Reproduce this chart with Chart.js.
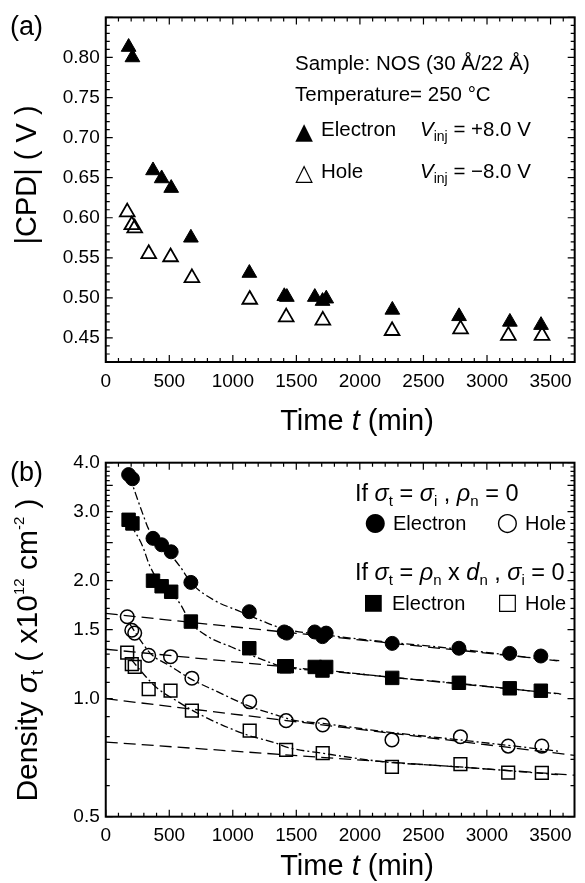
<!DOCTYPE html>
<html><head><meta charset="utf-8">
<script src="https://cdn.jsdelivr.net/npm/chart.js@4/dist/chart.umd.min.js"></script>
<style>
html,body{margin:0;padding:0;background:#fff;}
#wrap{position:relative;width:585px;height:883px;overflow:hidden;}
canvas{position:absolute;left:0;}
#ca{top:0;} #cb{top:440px;}
</style></head><body>
<div id="wrap"><canvas id="ca" width="585" height="440"></canvas><canvas id="cb" width="585" height="443"></canvas></div>
<script>
// ---------- data ----------
const timeElectron = [180, 210, 372, 440, 515, 670, 1130, 1405, 1425, 1645, 1706, 1735, 2255, 2780, 3180, 3425];
const timeHole     = [169, 205, 228, 338, 510, 678, 1133, 1420, 1708, 2253, 2792, 3168, 3433];

const cpdElectron = [0.813, 0.800, 0.659, 0.649, 0.637, 0.575, 0.531, 0.502, 0.501, 0.501, 0.496, 0.499, 0.485, 0.477, 0.470, 0.466];
const cpdHole     = [0.607, 0.591, 0.587, 0.555, 0.551, 0.525, 0.498, 0.476, 0.472, 0.459, 0.461, 0.453, 0.453];

const sigmaElectronI = [3.73, 3.64, 2.565, 2.47, 2.37, 1.98, 1.667, 1.48, 1.47, 1.48, 1.44, 1.47, 1.384, 1.345, 1.305, 1.285];
const sigmaElectronN = [2.86, 2.80, 2.00, 1.936, 1.874, 1.573, 1.345, 1.21, 1.21, 1.205, 1.18, 1.205, 1.13, 1.098, 1.063, 1.048];
const sigmaHoleI     = [1.618, 1.495, 1.47, 1.29, 1.28, 1.128, 0.982, 0.879, 0.857, 0.785, 0.80, 0.757, 0.757];
const sigmaHoleN     = [1.31, 1.225, 1.205, 1.058, 1.048, 0.932, 0.829, 0.740, 0.726, 0.670, 0.681, 0.648, 0.647];

// dash-dot fit curves
const fitTimeEI = [190, 234, 290, 342, 450, 586, 676, 857, 1037, 1243, 1397, 1835, 2195, 2710, 3560];
const fitEI     = [3.68, 3.34, 2.97, 2.69, 2.46, 2.17, 1.97, 1.78, 1.68, 1.573, 1.51, 1.44, 1.397, 1.345, 1.248];
const fitTimeEN = [200, 290, 342, 400, 470, 586, 663, 805, 985, 1243, 1397, 1835, 2247, 2761, 3585];
const fitEN     = [2.77, 2.45, 2.20, 2.03, 1.92, 1.745, 1.573, 1.44, 1.357, 1.255, 1.207, 1.172, 1.134, 1.095, 1.027];
const fitTimeHI = [190, 290, 367, 496, 676, 857, 1139, 1346, 1474, 1706, 2195, 2787, 3482, 3560];
const fitHI     = [1.55, 1.384, 1.29, 1.218, 1.12, 1.05, 0.954, 0.908, 0.882, 0.865, 0.824, 0.785, 0.74, 0.735];
const fitTimeHN = [200, 316, 406, 548, 676, 857, 1114, 1346, 1423, 1706, 2195, 2787, 3431, 3560];
const fitHN     = [1.26, 1.138, 1.063, 0.992, 0.936, 0.874, 0.808, 0.769, 0.752, 0.726, 0.69, 0.67, 0.645, 0.64];

// dashed straight (slow-component) lines
const tailTimeE = [0, 3570];
const tailEI    = [1.65, 1.25];
const tailEN    = [1.337, 1.03];
const tailTimeH = [0, 3690];
const tailHI    = [1.00, 0.717];
const tailHN    = [0.775, 0.638];

// axes / tick labels
const xTickLabels  = [0, 500, 1000, 1500, 2000, 2500, 3000, 3500];
const yTickLabelsA = ['0.45', '0.50', '0.55', '0.60', '0.65', '0.70', '0.75', '0.80'];
const yTickLabelsB = ['0.5', '1.0', '1.5', '2.0', '3.0', '4.0'];
const xRange  = [0, 3690];
const yRangeA = [0.42, 0.85];
const yRangeB = [0.5, 4.0];

// ---------- helpers ----------
const FONT = "'Liberation Sans', Arial, Helvetica, sans-serif";
const SYM = "'DejaVu Sans', sans-serif";
const pts = (xs, ys) => xs.map((x, i) => ({x: x, y: ys[i]}));
const xMinorTicks = []; for (let v = 0; v <= 3600; v += 100) xMinorTicks.push(v);
const yMinorA = []; for (let k = 42; k <= 85; k++) yMinorA.push(k / 100);
const yMinorB = []; for (let k = 5; k <= 40; k++) yMinorB.push(k / 10);
const isMajorX = v => xTickLabels.includes(v);
const isMajorYA = v => Math.round(v * 100) % 5 === 0;
const isMajorYB = v => yTickLabelsB.some(s => Math.abs(parseFloat(s) - v) < 1e-6) || Math.abs(v-2.5)<1e-6 || Math.abs(v-3.5)<1e-6;

function makeFrame(majX, majY) {
  return {
    id: 'frameTicks',
    afterDraw(chart) {
      const ctx = chart.ctx, a = chart.chartArea, xs = chart.scales.x, ys = chart.scales.y;
      ctx.save();
      ctx.strokeStyle = '#000';
      ctx.lineWidth = 1.2;
      ctx.beginPath();
      xs.ticks.forEach(t => {
        const p = xs.getPixelForValue(t.value);
        const L = majX(t.value) ? 7 : 4;
        ctx.moveTo(p, a.bottom); ctx.lineTo(p, a.bottom - L);
        ctx.moveTo(p, a.top); ctx.lineTo(p, a.top + L);
      });
      ys.ticks.forEach(t => {
        const p = ys.getPixelForValue(t.value);
        const L = majY(t.value) ? 7 : 4;
        ctx.moveTo(a.left, p); ctx.lineTo(a.left + L, p);
        ctx.moveTo(a.right, p); ctx.lineTo(a.right - L, p);
      });
      ctx.stroke();
      ctx.lineWidth = 2;
      ctx.strokeRect(a.left, a.top, a.right - a.left, a.bottom - a.top);
      ctx.restore();
    }
  };
}

function f(size, style, fam) { return (style ? style + ' ' : '') + size + 'px ' + (fam || FONT); }
// segs: [text, size, style, dy]
function rich(ctx, x, y, segs, align) {
  let w = 0;
  segs.forEach(s => { ctx.font = f(s[1], s[2]); w += ctx.measureText(s[0]).width; });
  let cx = align === 'center' ? x - w / 2 : x;
  segs.forEach(s => {
    ctx.font = f(s[1], s[2]);
    ctx.fillText(s[0], cx, y + (s[3] || 0));
    cx += ctx.measureText(s[0]).width;
  });
}
function richRot(ctx, x, y, segs) {
  ctx.save(); ctx.translate(x, y); ctx.rotate(-Math.PI / 2);
  rich(ctx, 0, 0, segs, 'center');
  ctx.restore();
}
function sym(ctx, ch, x, y, size) {
  ctx.save();
  ctx.font = f(size, '', SYM);
  ctx.textAlign = 'center'; ctx.textBaseline = 'middle';
  ctx.fillText(ch, x, y);
  ctx.restore();
}

function xScale() {
  return {
    type: 'linear', min: xRange[0], max: xRange[1],
    grid: {display: false, drawTicks: false}, border: {display: false},
    afterBuildTicks: s => { s.ticks = xMinorTicks.map(v => ({value: v})); },
    ticks: {autoSkip: false, maxRotation: 0, minRotation: 0, padding: 8, color: '#000',
      font: {family: FONT, size: 19},
      callback: v => isMajorX(v) ? String(v) : ''}
  };
}

const common = {
  responsive: false, animation: false, events: [],
  plugins: {legend: {display: false}, tooltip: {enabled: false}}
};

// ---------- panel (a) ----------
const textsA = {
  id: 'textsA',
  afterDraw(chart) {
    const ctx = chart.ctx;
    ctx.save(); ctx.fillStyle = '#000'; ctx.textBaseline = 'alphabetic';
    rich(ctx, 10, 35, [['(a)', 27]]);
    richRot(ctx, 36, 175, [['|CPD| ( V )', 29]]);
    rich(ctx, 357, 430, [['Time ', 29], ['t', 29, 'italic'], [' (min)', 29]], 'center');
    rich(ctx, 295, 70, [['Sample: NOS (30 Å/22 Å)', 20.5]]);
    rich(ctx, 295, 101, [['Temperature= 250 °C', 20.5]]);
    sym(ctx, '\u25b2', 304, 133, 23);
    rich(ctx, 321, 136, [['Electron', 20.5]]);
    rich(ctx, 420, 136, [['V', 20.5, 'italic'], ['inj', 14, '', 5], [' = +8.0 V', 20.5]]);
    sym(ctx, '\u25b3', 304, 174, 23);
    rich(ctx, 321, 178, [['Hole', 20.5]]);
    rich(ctx, 420, 178, [['V', 20.5, 'italic'], ['inj', 14, '', 5], [' = \u22128.0 V', 20.5]]);
    ctx.restore();
  }
};

new Chart(document.getElementById('ca'), {
  type: 'scatter',
  data: {datasets: [
    {data: pts(timeElectron, cpdElectron), pointStyle: 'triangle', pointRadius: 8.5,
     backgroundColor: '#000', borderColor: '#000', pointBorderWidth: 1},
    {data: pts(timeHole, cpdHole), pointStyle: 'triangle', pointRadius: 8.5,
     backgroundColor: 'rgba(0,0,0,0)', borderColor: '#000', pointBorderWidth: 1.8}
  ]},
  options: Object.assign({}, common, {
    layout: {padding: {top: 7, right: 2, left: 0, bottom: 0}},
    scales: {
      x: Object.assign(xScale(), {afterFit: s => { s.height = 78; }}),
      y: {
        type: 'linear', min: yRangeA[0], max: yRangeA[1],
        grid: {display: false, drawTicks: false}, border: {display: false},
        afterBuildTicks: s => { s.ticks = yMinorA.map(v => ({value: v})); },
        afterFit: s => { s.width = 105.75; },
        ticks: {autoSkip: false, padding: 6, color: '#000', font: {family: FONT, size: 19},
          callback: v => { const l = yTickLabelsA.find(t => Math.abs(parseFloat(t) - v) < 1e-6); return l || ''; }}
      }
    }
  }),
  plugins: [makeFrame(isMajorX, isMajorYA), textsA]
});

// ---------- panel (b) ----------
const textsB = {
  id: 'textsB',
  afterDraw(chart) {
    const ctx = chart.ctx;
    ctx.save(); ctx.fillStyle = '#000'; ctx.textBaseline = 'alphabetic';
    rich(ctx, 10, 41, [['(b)', 27]]);
    richRot(ctx, 37, 210, [['Density ', 30], ['\u03c3', 30, 'italic'], ['t', 18, '', 6],
      [' ( x10', 30], ['12', 15, '', -13], [' cm', 30], ['-2', 15, '', -13], [' )', 30]]);
    rich(ctx, 357, 435, [['Time ', 29], ['t', 29, 'italic'], [' (min)', 29]], 'center');
    rich(ctx, 355, 61, [['If ', 23.5], ['\u03c3', 23.5, 'italic'], ['t', 15, '', 5], [' = ', 23.5],
      ['\u03c3', 23.5, 'italic'], ['i', 15, '', 5], [' , ', 23.5], ['\u03c1', 23.5, 'italic'], ['n', 15, '', 5], [' = 0', 23.5]]);
    sym(ctx, '\u25cf', 375.5, 83, 25);
    rich(ctx, 393, 90, [['Electron', 20]]);
    sym(ctx, '\u25cb', 507.5, 83, 25);
    rich(ctx, 525, 90, [['Hole', 20]]);
    rich(ctx, 355, 140, [['If ', 23.5], ['\u03c3', 23.5, 'italic'], ['t', 15, '', 5], [' = ', 23.5],
      ['\u03c1', 23.5, 'italic'], ['n', 15, '', 5], [' x ', 23.5], ['d', 23.5, 'italic'], ['n', 15, '', 5],
      [' , ', 23.5], ['\u03c3', 23.5, 'italic'], ['i', 15, '', 5], [' = 0', 23.5]]);
    sym(ctx, '\u25a0', 373.5, 163, 22);
    rich(ctx, 392, 170, [['Electron', 20]]);
    sym(ctx, '\u25a1', 507.5, 163, 22);
    rich(ctx, 525, 170, [['Hole', 20]]);
    ctx.restore();
  }
};

const markerB = (xs, ys, style, filled, r) => ({
  type: 'scatter', data: pts(xs, ys), pointStyle: style, pointRadius: r,
  backgroundColor: filled ? '#000' : 'rgba(0,0,0,0)', borderColor: '#000',
  pointBorderWidth: filled ? 1 : 1.5, showLine: false
});
const fitLine = (xs, ys) => ({
  type: 'line', data: pts(xs, ys), showLine: true, pointRadius: 0, borderColor: '#000',
  borderWidth: 1.3, borderDash: [8, 3, 2, 3], fill: false, cubicInterpolationMode: 'monotone'
});
const tailLine = (xs, ys) => ({
  type: 'line', data: pts(xs, ys), showLine: true, pointRadius: 0, borderColor: '#000',
  borderWidth: 1.3, borderDash: [12, 6], fill: false, tension: 0
});

new Chart(document.getElementById('cb'), {
  type: 'scatter',
  data: {datasets: [
    tailLine(tailTimeE, tailEI), tailLine(tailTimeE, tailEN),
    tailLine(tailTimeH, tailHI), tailLine(tailTimeH, tailHN),
    fitLine(fitTimeEI, fitEI), fitLine(fitTimeEN, fitEN),
    fitLine(fitTimeHI, fitHI), fitLine(fitTimeHN, fitHN),
    markerB(timeElectron, sigmaElectronI, 'circle', true, 7),
    markerB(timeElectron, sigmaElectronN, 'rect', true, 9.5),
    markerB(timeHole, sigmaHoleI, 'circle', false, 6.8),
    markerB(timeHole, sigmaHoleN, 'rect', false, 9)
  ]},
  options: Object.assign({}, common, {
    layout: {padding: {top: 22.7, right: 2, left: 0, bottom: 0}},
    scales: {
      x: Object.assign(xScale(), {afterFit: s => { s.height = 443 - 376.7; }}),
      y: {
        type: 'logarithmic', min: yRangeB[0], max: yRangeB[1],
        grid: {display: false, drawTicks: false}, border: {display: false},
        afterBuildTicks: s => { s.ticks = yMinorB.map(v => ({value: v})); },
        afterFit: s => { s.width = 105.75; },
        ticks: {autoSkip: false, padding: 6, color: '#000', font: {family: FONT, size: 19},
          callback: v => { const l = yTickLabelsB.find(t => Math.abs(parseFloat(t) - v) < 1e-6); return l || ''; }}
      }
    }
  }),
  plugins: [makeFrame(isMajorX, isMajorYB), textsB]
});
</script>
</body></html>
